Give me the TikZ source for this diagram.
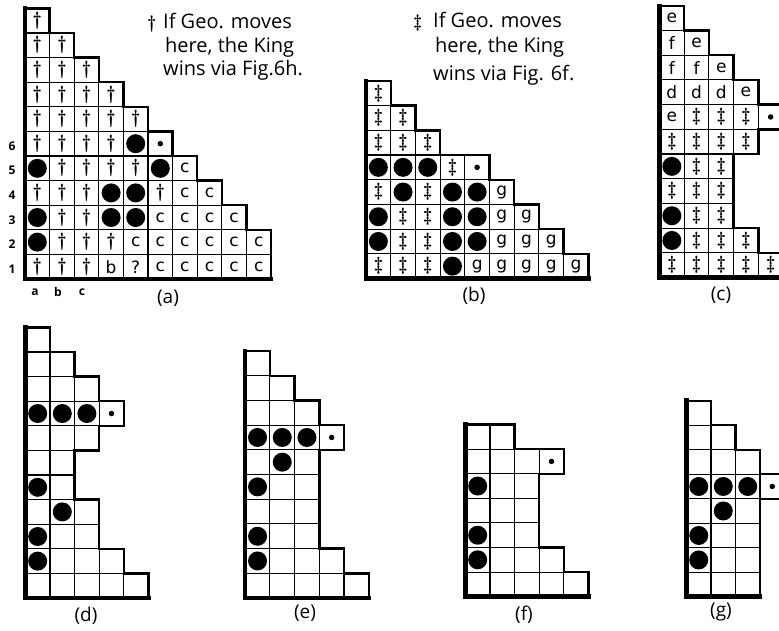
\documentclass[tikz,border=0pt]{standalone}
\usepackage{fontspec}
\newfontfamily\hand{Open Sans}
\newfontfamily\cellf{DejaVu Sans}
\tikzset{
  gridl/.style={line width=1.1pt},
  outl/.style={line width=2.4pt, line join=miter},
  thkl/.style={line width=4.5pt, line cap=rect},
  cellt/.style={inner sep=0pt, font=\cellf\fontsize{17}{17}\selectfont},
  kd/.style={inner sep=0pt, font=\bfseries\fontsize{19}{19}\selectfont, node contents=\textdagger},
  kdd/.style={inner sep=0pt, font=\bfseries\fontsize{19}{19}\selectfont, node contents=\textdaggerdbl},
  kbd/.style={circle, fill, inner sep=0pt, minimum size=19pt, node contents={}},
  ksd/.style={circle, fill, inner sep=0pt, minimum size=5.5pt, node contents={}},
  kc/.style={cellt, node contents=c},
  kg/.style={cellt, node contents=g},
  ke/.style={cellt, node contents=e},
  kf/.style={cellt, node contents=f},
  kdl/.style={cellt, node contents=d},
  kb/.style={cellt, node contents=b},
  kq/.style={cellt, node contents=?},
  notet/.style={inner sep=0pt, anchor=base west, font=\hand\fontsize{20}{20}\selectfont},
  dagt/.style={inner sep=0pt, anchor=base west, font=\bfseries\fontsize{18}{18}\selectfont},
  capt/.style={inner sep=0pt, font=\hand\fontsize{19}{19}\selectfont},
  labt/.style={inner sep=0pt, font=\hand\bfseries\fontsize{12}{12}\selectfont},
}
% #1 row lengths bottom to top, #2 number of rows, #3 bottom row length
\newcommand\board[3]{%
  \foreach \L [count=\r] in {#1}{\foreach \c in {1,...,\L}{\draw[gridl] (\c-1,\r-1) rectangle (\c,\r);}}
  \draw[outl] (0,0) \foreach \L [count=\r] in {#1}{ -- (\L,\r-1) -- (\L,\r)} -- (0,#2);
  \draw[thkl] (0,#2) -- (0,0) -- (#3,0);
}
\newcommand\crow[3]{\foreach \kk [count=\c] in {#3}{\node (#1-\c-#2) at (\c-0.5,#2-0.5) [\kk];}}
\newcommand\bdot[4]{\node (#1) at (#2-0.5,#3-0.5) [#4];}
\begin{document}
\begin{tikzpicture}[x=1pt,y=-1pt]
\useasboundingbox (0,0) rectangle (779,630);
\fill[white] (0,0) rectangle (779,630);
\clip (0,0) rectangle (779,630);

% ---------- notes ----------
\node[dagt] (na0) at (147,28) {\textdagger};
\node[notet] (na1) at (163,28) {If Geo. moves};
\node[notet] (na2) at (165,52) {here, the King};
\node[notet] (na3) at (163,75) {wins via Fig.6h.};
\node[dagt] (nb0) at (413,27) {\textdaggerdbl};
\node[notet] (nb1) at (433,27) {If Geo. moves};
\node[notet] (nb2) at (435,52) {here, the King};
\node[notet] (nb3) at (433,80) {wins via Fig. 6f.};

% ---------- board (a) ----------
\begin{scope}[shift={(25,279)},x=24.6pt,y=24.6pt]
\board{10,10,9,8,7,6,5,4,3,2,1}{11}{10}
\crow{a}{1}{kd,kd,kd,kb,kq,kc,kc,kc,kc,kc}
\crow{a}{2}{kbd,kd,kd,kd,kc,kc,kc,kc,kc,kc}
\crow{a}{3}{kbd,kd,kd,kbd,kbd,kc,kc,kc,kc}
\crow{a}{4}{kd,kd,kd,kbd,kbd,kd,kc,kc}
\crow{a}{5}{kbd,kd,kd,kd,kd,kbd,kc}
\crow{a}{6}{kd,kd,kd,kd,kbd,ksd}
\crow{a}{7}{kd,kd,kd,kd,kd}
\crow{a}{8}{kd,kd,kd,kd}
\crow{a}{9}{kd,kd,kd}
\crow{a}{10}{kd,kd}
\crow{a}{11}{kd}
\end{scope}
\foreach \n [count=\i] in {1,...,6}{\node[labt] (ra\i) at (12,269-24.6*\i+24.6) {\n};}
\node[labt] (ca1) at (35,292) {a};
\node[labt] (ca2) at (58,292) {b};
\node[labt] (ca3) at (82,292) {c};
\node[capt] (capa) at (168,298) {(a)};

% ---------- board (b) ----------
\begin{scope}[shift={(366,278.5)},x=24.7pt,y=24.7pt]
\board{9,8,7,6,5,3,2,1}{8}{9}
\crow{b}{1}{kdd,kdd,kdd,kbd,kg,kg,kg,kg,kg}
\crow{b}{2}{kbd,kdd,kdd,kbd,kbd,kg,kg,kg}
\crow{b}{3}{kbd,kdd,kdd,kbd,kbd,kg,kg}
\crow{b}{4}{kdd,kbd,kdd,kbd,kbd,kg}
\crow{b}{5}{kbd,kbd,kbd,kdd,ksd}
\crow{b}{6}{kdd,kdd,kdd}
\crow{b}{7}{kdd,kdd}
\crow{b}{8}{kdd}
\end{scope}
\node[capt] (capb) at (474,296) {(b)};

% ---------- board (c) ----------
\begin{scope}[shift={(659.5,277.5)},x=24.7pt,y=24.7pt]
\board{5,4,3,3,3,4,5,4,3,2,1}{11}{5}
\crow{c}{1}{kdd,kdd,kdd,kdd,kdd}
\crow{c}{2}{kbd,kdd,kdd,kdd}
\crow{c}{3}{kbd,kdd,kdd}
\crow{c}{4}{kdd,kdd,kdd}
\crow{c}{5}{kbd,kdd,kdd}
\crow{c}{6}{kdd,kdd,kdd,kdd}
\crow{c}{7}{ke,kdd,kdd,kdd,ksd}
\crow{c}{8}{kdl,kdl,kdl,ke}
\crow{c}{9}{kf,kf,ke}
\crow{c}{10}{kf,ke}
\crow{c}{11}{ke}
\end{scope}
\node[capt] (capc) at (721,295) {(c)};

% ---------- board (d) ----------
\begin{scope}[shift={(25.4,598)},x=24.6pt,y=24.6pt]
\board{5,4,3,3,2,2,3,4,3,2,1}{11}{5}
\bdot{d12}{1}{2}{kbd}
\bdot{d13}{1}{3}{kbd}
\bdot{d24}{2}{4}{kbd}
\bdot{d15}{1}{5}{kbd}
\bdot{d18}{1}{8}{kbd}
\bdot{d28}{2}{8}{kbd}
\bdot{d38}{3}{8}{kbd}
\bdot{d48}{4}{8}{ksd}
\end{scope}
\node[capt] (capd) at (86,616) {(d)};

% ---------- board (e) ----------
\begin{scope}[shift={(245.2,598)},x=24.7pt,y=24.7pt]
\board{5,4,3,3,3,3,4,3,2,1}{10}{5}
\bdot{e12}{1}{2}{kbd}
\bdot{e13}{1}{3}{kbd}
\bdot{e15}{1}{5}{kbd}
\bdot{e26}{2}{6}{kbd}
\bdot{e17}{1}{7}{kbd}
\bdot{e27}{2}{7}{kbd}
\bdot{e37}{3}{7}{kbd}
\bdot{e47}{4}{7}{ksd}
\end{scope}
\node[capt] (cape) at (305,613) {(e)};

% ---------- board (f) ----------
\begin{scope}[shift={(465.4,596.7)},x=24.6pt,y=24.6pt]
\board{5,4,3,3,3,4,2}{7}{5}
\bdot{f12}{1}{2}{kbd}
\bdot{f13}{1}{3}{kbd}
\bdot{f15}{1}{5}{kbd}
\bdot{f46}{4}{6}{ksd}
\end{scope}
\node[capt] (capf) at (524,615) {(f)};

% ---------- board (g) ----------
\begin{scope}[shift={(686.5,596.7)},x=24.5pt,y=24.5pt]
\board{3,3,3,3,4,3,2,1}{8}{3}
\bdot{g12}{1}{2}{kbd}
\bdot{g13}{1}{3}{kbd}
\bdot{g24}{2}{4}{kbd}
\bdot{g15}{1}{5}{kbd}
\bdot{g25}{2}{5}{kbd}
\bdot{g35}{3}{5}{kbd}
\bdot{g45}{4}{5}{ksd}
\end{scope}
\node[capt] (capg) at (721,612) {(g)};
\end{tikzpicture}
\end{document}
